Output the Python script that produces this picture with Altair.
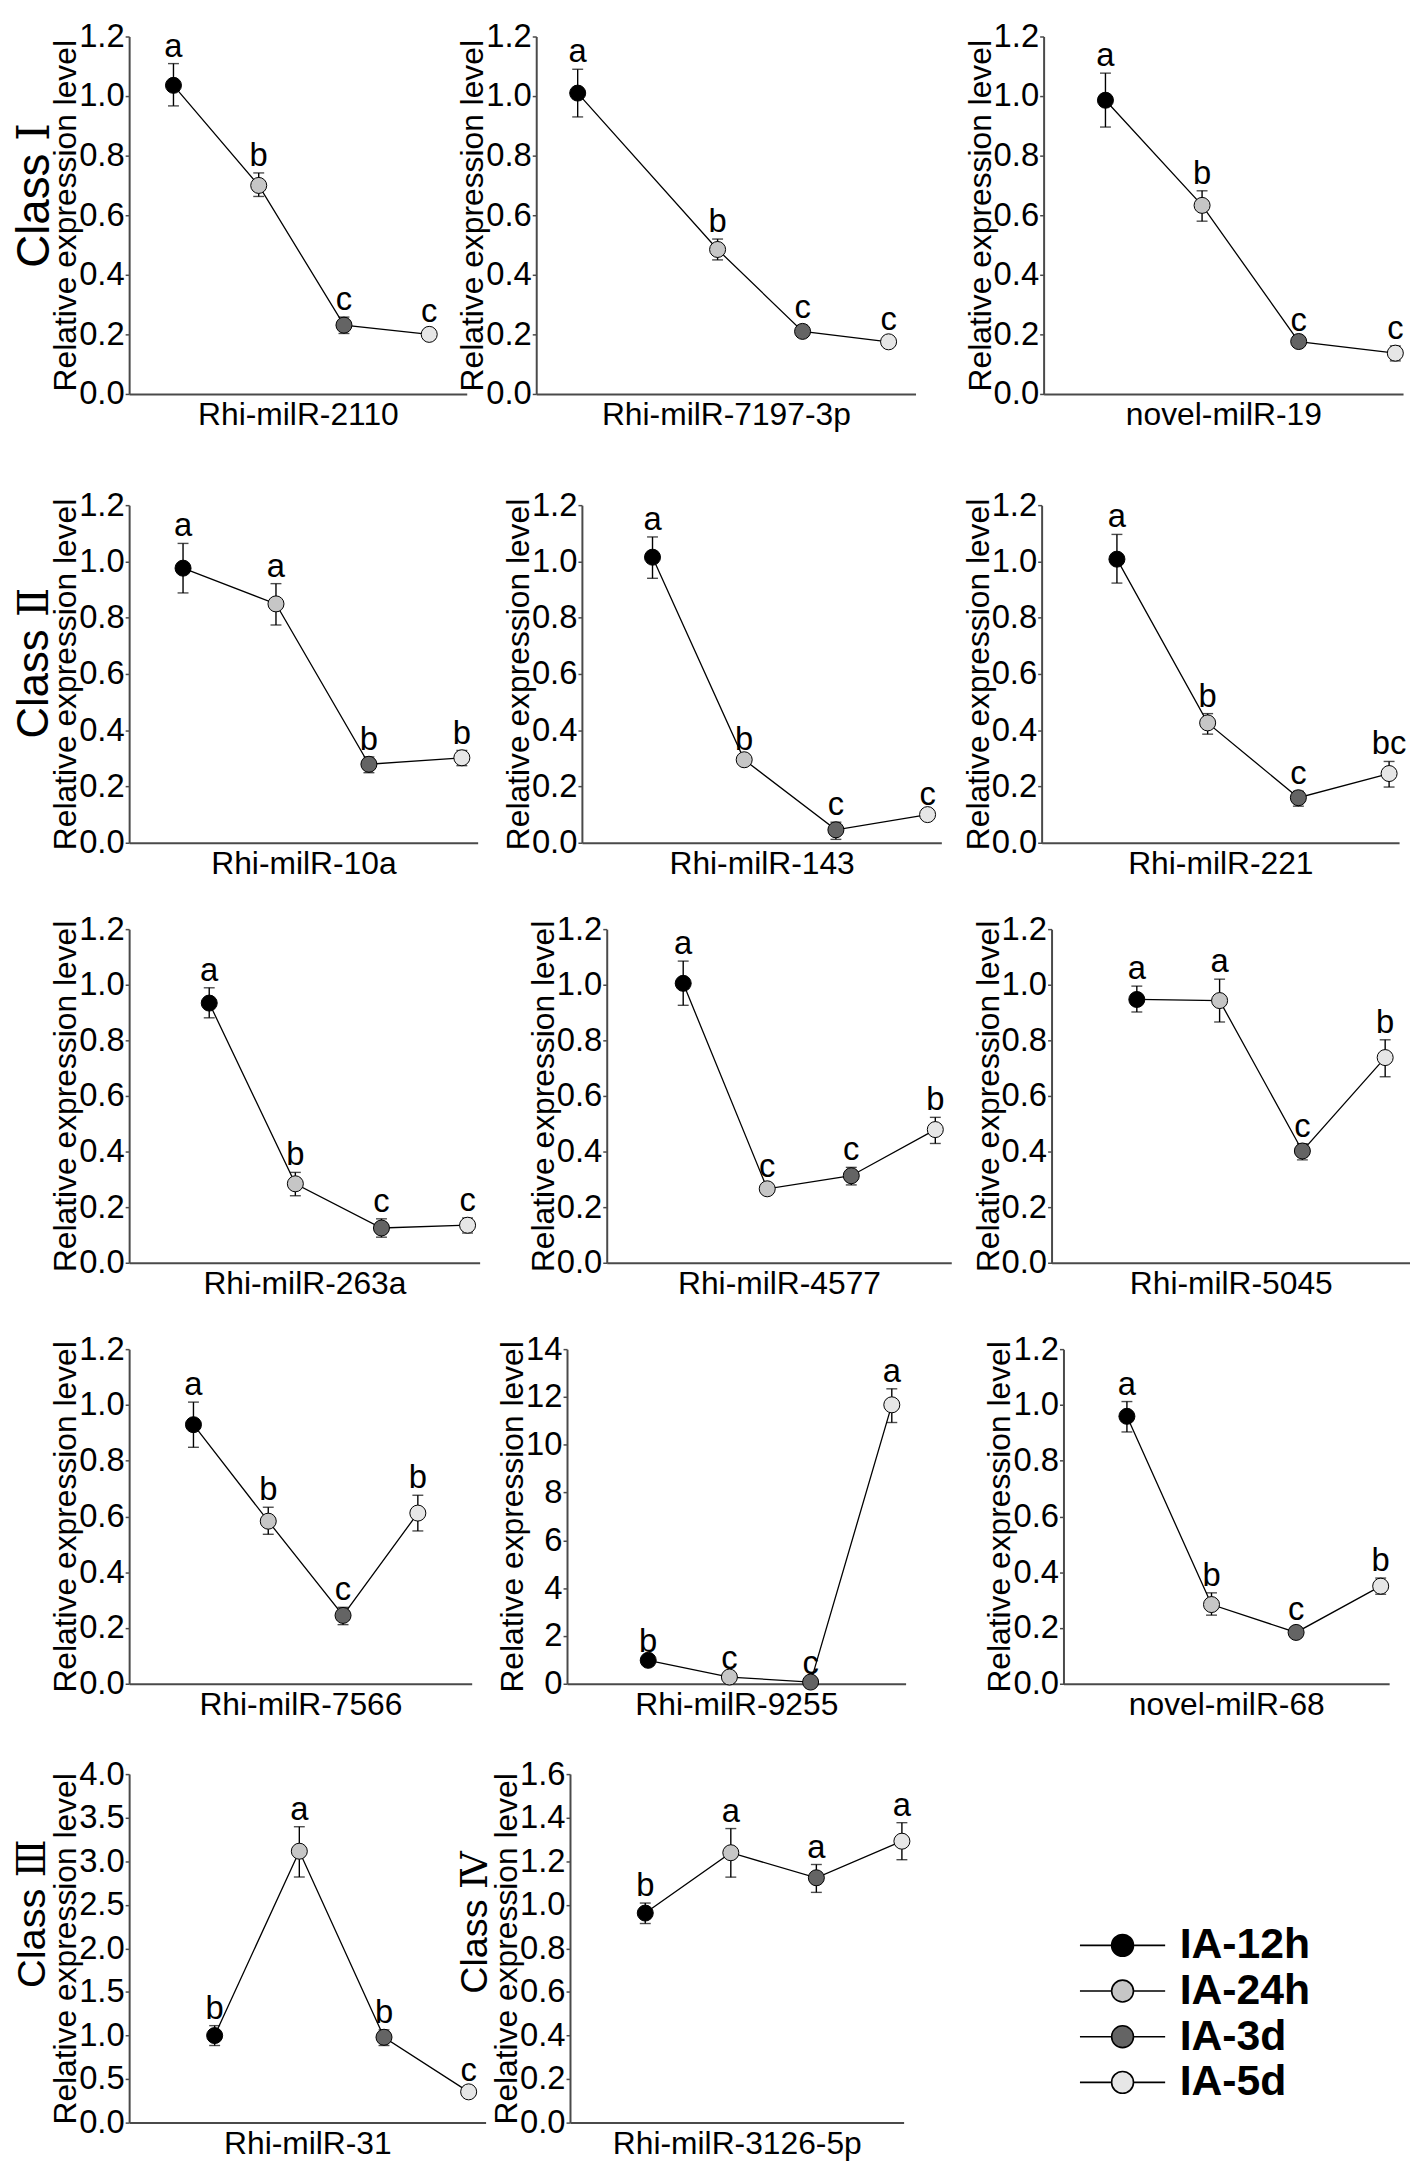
import altair as alt
import pandas as pd

FONT = "Liberation Sans"
CLASS_FONT = "Liberation Sans, DejaVu Serif"

groups = ["IA-12h", "IA-24h", "IA-3d", "IA-5d"]
fills = ["#000000", "#c6c6c6", "#646464", "#e6e6e6"]
positions = [1, 2, 3, 4]
# Rhi-milR-7197-3p is drawn with uneven spacing in the original figure
positions_7197 = [1, 2.35, 3.17, 4]

names = [
    "Rhi-milR-2110", "Rhi-milR-7197-3p", "novel-milR-19",
    "Rhi-milR-10a", "Rhi-milR-143", "Rhi-milR-221",
    "Rhi-milR-263a", "Rhi-milR-4577", "Rhi-milR-5045",
    "Rhi-milR-7566", "Rhi-milR-9255", "novel-milR-68",
    "Rhi-milR-31", "Rhi-milR-3126-5p",
]

means = [
    [1.036, 0.700, 0.231, 0.200],
    [1.010, 0.485, 0.210, 0.175],
    [0.986, 0.633, 0.176, 0.137],
    [0.976, 0.849, 0.279, 0.302],
    [1.015, 0.295, 0.046, 0.100],
    [1.008, 0.426, 0.160, 0.246],
    [0.934, 0.284, 0.125, 0.135],
    [1.005, 0.266, 0.313, 0.479],
    [0.947, 0.943, 0.402, 0.738],
    [0.929, 0.583, 0.245, 0.612],
    [0.980, 0.280, 0.070, 11.67],
    [0.959, 0.284, 0.184, 0.350],
    [0.999, 3.115, 0.980, 0.353],
    [0.962, 1.239, 1.124, 1.292],
]

lows = [
    [0.967, 0.663, 0.203, 0.183],
    [0.930, 0.450, 0.190, 0.160],
    [0.896, 0.580, 0.165, 0.111],
    [0.888, 0.774, 0.249, 0.274],
    [0.940, 0.285, 0.012, 0.090],
    [0.923, 0.386, 0.130, 0.198],
    [0.881, 0.241, 0.092, 0.107],
    [0.926, 0.246, 0.280, 0.429],
    [0.902, 0.866, 0.370, 0.669],
    [0.848, 0.536, 0.212, 0.548],
    [0.920, 0.220, 0.030, 10.93],
    [0.903, 0.246, 0.165, 0.321],
    [0.885, 2.819, 0.885, 0.310],
    [0.914, 1.127, 1.057, 1.207],
]

highs = [
    [1.109, 0.742, 0.258, 0.217],
    [1.090, 0.520, 0.230, 0.190],
    [1.077, 0.682, 0.187, 0.161],
    [1.064, 0.921, 0.305, 0.328],
    [1.087, 0.305, 0.073, 0.110],
    [1.096, 0.459, 0.183, 0.289],
    [0.989, 0.325, 0.158, 0.161],
    [1.085, 0.284, 0.343, 0.523],
    [0.995, 1.020, 0.428, 0.802],
    [1.010, 0.633, 0.274, 0.676],
    [1.040, 0.340, 0.110, 12.34],
    [1.012, 0.326, 0.204, 0.379],
    [1.113, 3.396, 1.064, 0.400],
    [1.008, 1.350, 1.185, 1.377],
]

letters = [
    ["a", "b", "c", "c"],
    ["a", "b", "c", "c"],
    ["a", "b", "c", "c"],
    ["a", "a", "b", "b"],
    ["a", "b", "c", "c"],
    ["a", "b", "c", "bc"],
    ["a", "b", "c", "c"],
    ["a", "c", "c", "b"],
    ["a", "a", "c", "b"],
    ["a", "b", "c", "b"],
    ["b", "c", "c", "a"],
    ["a", "b", "c", "b"],
    ["b", "a", "b", "c"],
    ["b", "a", "a", "a"],
]

y_ticks_12 = [0.0, 0.2, 0.4, 0.6, 0.8, 1.0, 1.2]
y_ticks_14 = [0, 2, 4, 6, 8, 10, 12, 14]
y_ticks_40 = [0.0, 0.5, 1.0, 1.5, 2.0, 2.5, 3.0, 3.5, 4.0]
y_ticks_16 = [0.0, 0.2, 0.4, 0.6, 0.8, 1.0, 1.2, 1.4, 1.6]

AXIS_GREY = "#4a4a4a"
LEGEND_PATH = ("M-3.9,0L-1,0M1,0L3.9,0"
               "M1,0A1,1,0,1,1,-1,0A1,1,0,1,1,1,0Z")


def panel(i, width, height, xdom, yticks, fmt, cls=None, cls_size=45,
          cls_offset=-8, cls_dx=0, xpos=None):
    df = pd.DataFrame({
        "pos": xpos if xpos is not None else positions,
        "group": groups,
        "mean": means[i],
        "lo": lows[i],
        "hi": highs[i],
        "letter": letters[i],
    })
    xscale = alt.Scale(domain=xdom, nice=False, zero=False)
    yscale = alt.Scale(domain=[0, yticks[-1]], nice=False, zero=True)
    xaxis = alt.Axis(title=names[i], labels=False, ticks=False, grid=False,
                     titleFontSize=32, titleFontWeight="normal", titlePadding=6,
                     titleFont=FONT, titleColor="black",
                     domainColor=AXIS_GREY, domainWidth=2)
    yaxis = alt.Axis(title="Relative expression level", values=yticks, format=fmt,
                     grid=False, labelFontSize=33, labelFont=FONT, labelColor="black",
                     titleFontSize=32, titleFontWeight="normal", titleFont=FONT,
                     titleColor="black", titlePadding=-4, labelPadding=1,
                     tickSize=4, tickColor=AXIS_GREY, tickWidth=1.5,
                     domainColor=AXIS_GREY, domainWidth=2)

    def X():
        return alt.X("pos:Q", scale=xscale, axis=xaxis)

    def Y(field):
        return alt.Y(field + ":Q", scale=yscale, axis=yaxis)

    base = alt.Chart(df)
    line = base.mark_line(color="black", strokeWidth=1.3).encode(x=X(), y=Y("mean"))
    err = base.mark_rule(color="black", strokeWidth=1.4).encode(
        x=X(), y=Y("lo"), y2=alt.Y2("hi:Q"))
    cap_lo = base.mark_tick(color="black", orient="horizontal", size=11,
                            thickness=1.4).encode(x=X(), y=Y("lo"))
    cap_hi = base.mark_tick(color="black", orient="horizontal", size=11,
                            thickness=1.4).encode(x=X(), y=Y("hi"))
    pts = base.mark_point(filled=True, size=260, stroke="black", strokeWidth=1,
                          opacity=1).encode(
        x=X(), y=Y("mean"),
        fill=alt.Fill("group:N", scale=alt.Scale(domain=groups, range=fills),
                      legend=alt.Legend(
                          title=None, orient="none", legendX=979, legendY=1901,
                          symbolType=LEGEND_PATH, symbolSize=484,
                          symbolStrokeColor="black", symbolStrokeWidth=1.6,
                          labelFont=FONT, labelFontSize=43, labelFontWeight="bold",
                          labelColor="black", labelOffset=36, rowPadding=2,
                          padding=0)))
    txt = base.mark_text(baseline="alphabetic", dy=-7, fontSize=33, font=FONT,
                         color="black").encode(x=X(), y=Y("hi"), text="letter:N")
    ch = alt.layer(line, err, cap_lo, cap_hi, pts, txt).properties(
        width=width, height=height)
    if cls is not None:
        ch = ch.properties(title=alt.TitleParams(
            text=cls, orient="left", anchor="middle", fontSize=cls_size,
            font=CLASS_FONT, fontWeight="normal", color="black",
            offset=cls_offset, dx=cls_dx))
    return ch


row1 = alt.hconcat(
    panel(0, 340, 360, [0.48, 4.44], y_ticks_12, ".1f", cls="Class \u2160",
          cls_size=46, cls_offset=-9, cls_dx=20),
    alt.hconcat(
        panel(1, 382, 360, [0.6, 4.26], y_ticks_12, ".1f", xpos=positions_7197),
        panel(2, 362, 360, [0.36, 4.08], y_ticks_12, ".1f"),
        spacing=49),
    spacing=-10)

row2 = alt.hconcat(
    panel(3, 351, 340, [0.42, 4.17], y_ticks_12, ".1f", cls="Class \u2161",
          cls_size=44, cls_offset=-7, cls_dx=11),
    alt.hconcat(
        panel(4, 362, 340, [0.23, 4.15], y_ticks_12, ".1f"),
        panel(5, 360, 340, [0.17, 4.11], y_ticks_12, ".1f"),
        spacing=21),
    spacing=25)

row3 = alt.hconcat(
    panel(6, 353, 336, [0.07, 4.14], y_ticks_12, ".1f", cls=" "),
    alt.hconcat(
        panel(7, 347, 336, [0.09, 4.19], y_ticks_12, ".1f"),
        panel(8, 361, 336, [-0.03, 4.3], y_ticks_12, ".1f"),
        spacing=21),
    spacing=48)

row4 = alt.hconcat(
    panel(9, 345, 337, [0.14, 4.72], y_ticks_12, ".1f", cls=" "),
    alt.hconcat(
        panel(10, 341, 337, [0.0, 4.17], y_ticks_14, "d"),
        panel(11, 328, 337, [0.25, 4.1], y_ticks_12, ".1f"),
        spacing=79),
    spacing=25)

row5 = alt.hconcat(
    panel(12, 359, 351, [-0.01, 4.2], y_ticks_40, ".1f", cls="Class \u2162",
          cls_size=40, cls_offset=-3, cls_dx=35),
    panel(13, 336, 351, [0.12, 4.02], y_ticks_16, ".1f", cls="Class \u2163",
          cls_size=38, cls_offset=-4, cls_dx=26),
    spacing=-29)

lower = alt.vconcat(
    row2,
    alt.vconcat(
        row3,
        alt.vconcat(row4, row5, spacing=38),
        spacing=34),
    spacing=34)

chart = alt.vconcat(
    row1,
    lower,
    spacing=59,
).resolve_scale(fill="shared").resolve_legend(fill="shared").properties(
    padding={"left": 4, "top": 5, "right": 0, "bottom": 0},
    background="white",
).configure(font=FONT).configure_view(stroke=None)

chart.save("out.html", embed_options={"renderer": "svg", "actions": False})
